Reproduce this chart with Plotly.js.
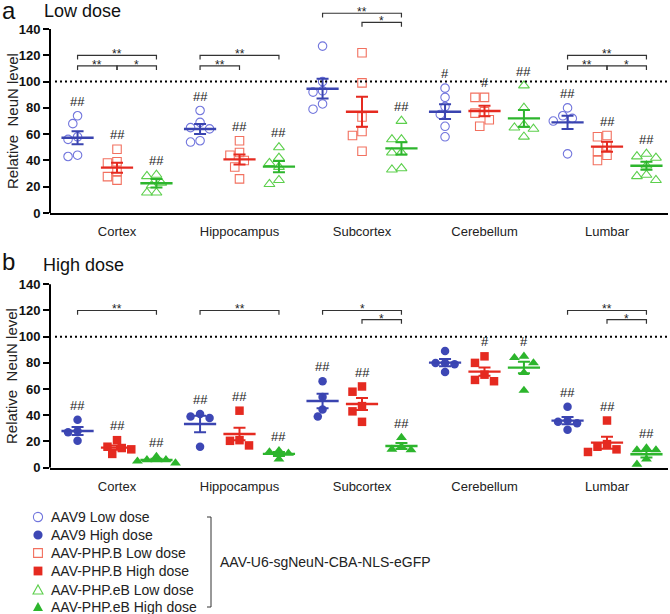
<!DOCTYPE html>
<html><head><meta charset="utf-8">
<script src="https://cdn.plot.ly/plotly-3.0.1.min.js"></script>
<style>html,body{margin:0;padding:0;background:#fff}</style>
</head><body><div id="chart" style="width:670px;height:614px"></div>
<script>
// ---------- DATA ----------
const groups = ['Cortex', 'Hippocampus', 'Subcortex', 'Cerebellum', 'Lumbar'];
const seriesNames = ['AAV9', 'AAV-PHP.B', 'AAV-PHP.eB'];
const doseNames = ['Low dose', 'High dose'];

// Low dose individual values
const aav9Low   = [[68,74,58,56,43,44],[78,69,65,64,54,55],[127,100,93,92,83,79],[95,88,81,75,66,58],[80,74,72,70,45]];
const phpbLow   = [[48.5,39,38,31.5,27.7,25],[55,44,46,40,35,26],[122,99,73,62,59,47],[88,88,77,76,71,66],[58,59,47,51,44,40]];
const phpebLow  = [[29,28,23,21,15.5,15.5],[50,42,38,35,22,25],[70,56,56,46,46,34,33],[97,80,67,65,64,58],[45,43,42,36,29,28,25]];
const aav9LowMean  = [57.3, 63.9, 94.6, 77.1, 69.0];
const aav9LowSem   = [5.0, 3.8, 7.5, 5.6, 5.1];
const phpbLowMean  = [34.5, 40.8, 77.1, 77.6, 50.5];
const phpbLowSem   = [3.8, 3.8, 11.4, 4.0, 3.8];
const phpebLowMean = [22.6, 35.3, 49.2, 72.0, 36.0];
const phpebLowSem  = [3.2, 4.2, 4.7, 6.3, 3.0];

// High dose individual values
const aav9High  = [[36.5,28,27,20.5],[39,38,41,16],[66,54,44.5,39],[89,80,80,79,73],[46.5,36,35,34,29]];
const phpbHigh  = [[21,16,15,14,10.5],[43.5,21,20.5,17],[62,58,47,43,35],[85,80,71,67,66],[36,18,16,14,12]];
const phpebHigh = [[8.5,6,6,5,3.5],[13,12,11,6.5],[23,16,14,13.5],[84,85,80,72.5,59],[13.5,13.5,15,6.5,2.6]];
const aav9HighMean  = [28.0, 33.4, 50.9, 80.2, 35.9];
const aav9HighSem   = [3.0, 6.3, 5.6, 2.8, 2.8];
const phpbHighMean  = [15.3, 25.7, 48.6, 73.3, 19.1];
const phpbHighSem   = [1.7, 4.8, 4.5, 3.2, 4.6];
const phpebHighMean = [5.9, 10.5, 16.6, 76.4, 10.2];
const phpebHighSem  = [0.9, 1.5, 2.3, 4.4, 2.5];

// Significance vs control (#) labels
const lowHash  = [['##','##','','#','##'], ['##','##','','#','##'], ['##','##','##','##','##']];
const highHash = [['##','##','##','','##'], ['##','##','##','#','##'], ['##','##','##','#','##']];

// Pairwise comparisons: [group, fromSeries, toSeries, level, label]
const lowComparisons = [[0,0,2,120,'**'],[0,0,1,112,'**'],[0,1,2,112,'*'],[1,0,2,120,'**'],[1,0,1,112,'**'],
                        [2,0,2,152,'**'],[2,1,2,145,'*'],[4,0,2,120,'**'],[4,0,1,112,'**'],[4,1,2,112,'*']];
const highComparisons = [[0,0,2,120,'**'],[1,0,2,120,'**'],[2,0,2,120,'*'],[2,1,2,113,'*'],[4,0,2,120,'**'],[4,1,2,113,'*']];

const refLevel = 100;
const yTicks = [0,20,40,60,80,100,120,140];
const legendNote = 'AAV-U6-sgNeuN-CBA-NLS-eGFP';

// ---------- LAYOUT / STYLE ----------
const W = 670, H = 614, ML = 50, MR = 2;
const plotW = W - ML - MR;
const xRange = [-0.547, 4.498];
const yRange = [0, 155];
const domA = [0.6531, 0.9848];
const domB = [0.2383, 0.5690];
const xS = plotW / (xRange[1] - xRange[0]);
const yS = (domA[1] - domA[0]) * H / (yRange[1] - yRange[0]);
const seriesOffset = [-0.322, 0, 0.322];
const FONT = 'Liberation Sans, Arial, sans-serif';

const meanCol = ['#3a44b0', '#e52a20', '#2db52d'];
const openCol = ['#7276dd', '#f2705f', '#5ccf4c'];
const fillCol = ['#3d47b5', '#e52a20', '#2cb52c'];
const openSym = ['circle-open', 'square-open', 'triangle-up-open'];
const fillSym = ['circle', 'square', 'triangle-up'];
const symSize = [8.5, 8.5, 9.5];
const legendRowsPx = [517, 535, 553, 571, 590, 607];

function px(x) { return (x - ML) / plotW; }
function py(y) { return 1 - y / H; }

// simple beeswarm offsets (non-overlapping placement)
function swarm(vals) {
  const D = 8.2, step = D * 0.58;
  const placed = [], offs = new Array(vals.length).fill(0);
  const order = vals.map((v, i) => i).sort((a, b) => vals[b] - vals[a]);
  for (const i of order) {
    const y = vals[i] * yS;
    const cands = [0];
    for (let k = 1; k < 8; k++) { cands.push(-k * step, k * step); }
    for (const c of cands) {
      if (placed.every(p => Math.hypot(p.x - c, p.y - y) >= D)) { offs[i] = c; placed.push({x: c, y: y}); break; }
    }
  }
  return offs.map(o => o / xS);
}

const traces = [];
const annotations = [];
const shapes = [];

const doses = [
  {vals: [aav9Low, phpbLow, phpebLow], mean: [aav9LowMean, phpbLowMean, phpebLowMean],
   sem: [aav9LowSem, phpbLowSem, phpebLowSem], hash: lowHash, comps: lowComparisons, xa: 'x', ya: 'y', open: true},
  {vals: [aav9High, phpbHigh, phpebHigh], mean: [aav9HighMean, phpbHighMean, phpebHighMean],
   sem: [aav9HighSem, phpbHighSem, phpebHighSem], hash: highHash, comps: highComparisons, xa: 'x2', ya: 'y2', open: false}
];

doses.forEach((d, di) => {
  d.vals.forEach((series, s) => {
    const xs = [], ys = [];
    series.forEach((vals, g) => {
      const off = swarm(vals);
      vals.forEach((v, k) => { xs.push(g + seriesOffset[s] + off[k]); ys.push(v); });
    });
    traces.push({
      type: 'scatter', mode: 'markers', x: xs, y: ys, xaxis: d.xa, yaxis: d.ya,
      name: seriesNames[s] + ' ' + doseNames[di], showlegend: false,
      marker: d.open ? {symbol: openSym[s], size: symSize[s], color: openCol[s], line: {width: 1.1, color: openCol[s]}}
                     : {symbol: fillSym[s], size: symSize[s], color: fillCol[s], line: {width: 0}},
      cliponaxis: false, hoverinfo: 'skip'
    });
  });
  d.mean.forEach((m, s) => {
    traces.push({
      type: 'scatter', mode: 'markers', xaxis: d.xa, yaxis: d.ya, showlegend: false,
      x: groups.map((g, i) => i + seriesOffset[s]), y: m,
      marker: {symbol: 'line-ew', size: 23, color: meanCol[s], line: {width: 2.4, color: meanCol[s]}},
      error_y: {type: 'data', array: d.sem[s], visible: true, color: meanCol[s], thickness: 2, width: 6},
      cliponaxis: false, hoverinfo: 'skip'
    });
  });
  d.hash.forEach((row, s) => {
    row.forEach((t, g) => {
      if (!t) return;
      const mx = Math.max.apply(null, d.vals[s][g]);
      annotations.push({xref: d.xa, yref: d.ya, x: g + seriesOffset[s], y: mx + 11, text: t, showarrow: false,
        xanchor: 'center', yanchor: 'middle', font: {family: FONT, size: 13, color: '#222'}});
    });
  });
  d.comps.forEach(c => {
    const [g, a, b, lvl, lab] = c;
    const x0 = g + seriesOffset[a], x1 = g + seriesOffset[b];
    shapes.push({type: 'path', xref: d.xa, yref: d.ya,
      path: `M${x0},${lvl - 3.2} L${x0},${lvl} L${x1},${lvl} L${x1},${lvl - 3.2}`,
      line: {color: '#333', width: 1.2}});
    annotations.push({xref: d.xa, yref: d.ya, x: (x0 + x1) / 2, y: lvl, text: lab, showarrow: false,
      xanchor: 'center', yanchor: 'middle', yshift: 1, font: {family: FONT, size: 12, color: '#222'}});
  });
  shapes.push({type: 'line', xref: 'paper', yref: d.ya, x0: 5 / plotW, x1: 1, y0: refLevel, y1: refLevel,
    line: {color: '#000', width: 2, dash: '2px,3px'}});
  shapes.push({type: 'line', xref: 'paper', yref: d.ya, x0: 0, x1: 0, y0: 0, y1: yTicks[yTicks.length - 1],
    line: {color: '#000', width: 2}});
  annotations.push({xref: 'paper', yref: d.ya, x: px(12), y: 70, text: 'Relative  NeuN level', textangle: -90,
    showarrow: false, xanchor: 'center', yanchor: 'middle', font: {family: FONT, size: 15, color: '#222'}});
});

// panel labels
annotations.push({xref: 'paper', yref: 'paper', x: px(0), y: py(10), text: 'a', showarrow: false, xanchor: 'left', yanchor: 'middle', font: {family: FONT, size: 24, color: '#111'}});
annotations.push({xref: 'paper', yref: 'paper', x: px(42), y: py(10.5), text: doseNames[0], showarrow: false, xanchor: 'left', yanchor: 'middle', font: {family: FONT, size: 18, color: '#111'}});
annotations.push({xref: 'paper', yref: 'paper', x: px(0), y: py(261), text: 'b', showarrow: false, xanchor: 'left', yanchor: 'middle', font: {family: FONT, size: 24, color: '#111'}});
annotations.push({xref: 'paper', yref: 'paper', x: px(41), y: py(265), text: doseNames[1], showarrow: false, xanchor: 'left', yanchor: 'middle', font: {family: FONT, size: 18, color: '#111'}});

// custom legend (symbols as pixel-sized shapes + text)
let row = 0;
for (let s = 0; s < 3; s++) {
  for (let di = 0; di < 2; di++) {
    const yc = py(legendRowsPx[row]);
    const open = di === 0;
    const col = open ? openCol[s] : fillCol[s];
    const base = {xref: 'paper', yref: 'paper', xsizemode: 'pixel', ysizemode: 'pixel', xanchor: px(38), yanchor: yc,
      line: {color: col, width: open ? 1.1 : 0}, fillcolor: open ? 'rgba(0,0,0,0)' : col};
    if (s === 0) shapes.push(Object.assign({type: 'circle', x0: -4.6, x1: 4.6, y0: -4.6, y1: 4.6}, base));
    else if (s === 1) shapes.push(Object.assign({type: 'rect', x0: -4.4, x1: 4.4, y0: -4.4, y1: 4.4}, base));
    else shapes.push(Object.assign({type: 'path', path: 'M-5,-4 L5,-4 L0,5 Z'}, base));
    annotations.push({xref: 'paper', yref: 'paper', x: px(49), y: yc, text: seriesNames[s] + ' ' + doseNames[di],
      showarrow: false, xanchor: 'left', yanchor: 'middle', font: {family: FONT, size: 14, color: '#222'}});
    row++;
  }
}
shapes.push({type: 'path', xref: 'paper', yref: 'paper',
  path: `M${px(207)},${py(517)} L${px(211)},${py(517)} L${px(211)},${py(607)} L${px(207)},${py(607)}`,
  line: {color: '#333', width: 1}});
annotations.push({xref: 'paper', yref: 'paper', x: px(218), y: py(562), text: legendNote, showarrow: false,
  xanchor: 'left', yanchor: 'middle', font: {family: FONT, size: 14, color: '#222'}});

function xAxis(anchor) {
  return {domain: [0, 1], range: xRange, anchor: anchor, tickmode: 'array', tickvals: groups.map((g, i) => i), ticktext: groups,
    showline: true, linewidth: 2.5, linecolor: '#000', ticks: 'outside', ticklen: 5, tickcolor: 'rgba(0,0,0,0)',
    tickfont: {family: FONT, size: 13, color: '#222'}, showgrid: false, zeroline: false, fixedrange: true};
}
function yAxis(anchor, dom) {
  return {domain: dom, range: yRange, anchor: anchor, tickmode: 'array', tickvals: yTicks, showline: false,
    ticks: 'outside', ticklen: 6, tickwidth: 2, tickcolor: '#000',
    tickfont: {family: FONT, size: 13, weight: 'bold', color: '#111'}, showgrid: false, zeroline: false, fixedrange: true};
}

const layout = {
  width: W, height: H, margin: {l: ML, r: MR, t: 0, b: 0},
  paper_bgcolor: '#fff', plot_bgcolor: 'rgba(0,0,0,0)',
  font: {family: FONT},
  xaxis: xAxis('y'), yaxis: yAxis('x', domA),
  xaxis2: xAxis('y2'), yaxis2: yAxis('x2', domB),
  showlegend: false,
  shapes: shapes, annotations: annotations
};

Plotly.newPlot('chart', traces, layout, {displayModeBar: false, staticPlot: true});
</script></body></html>
